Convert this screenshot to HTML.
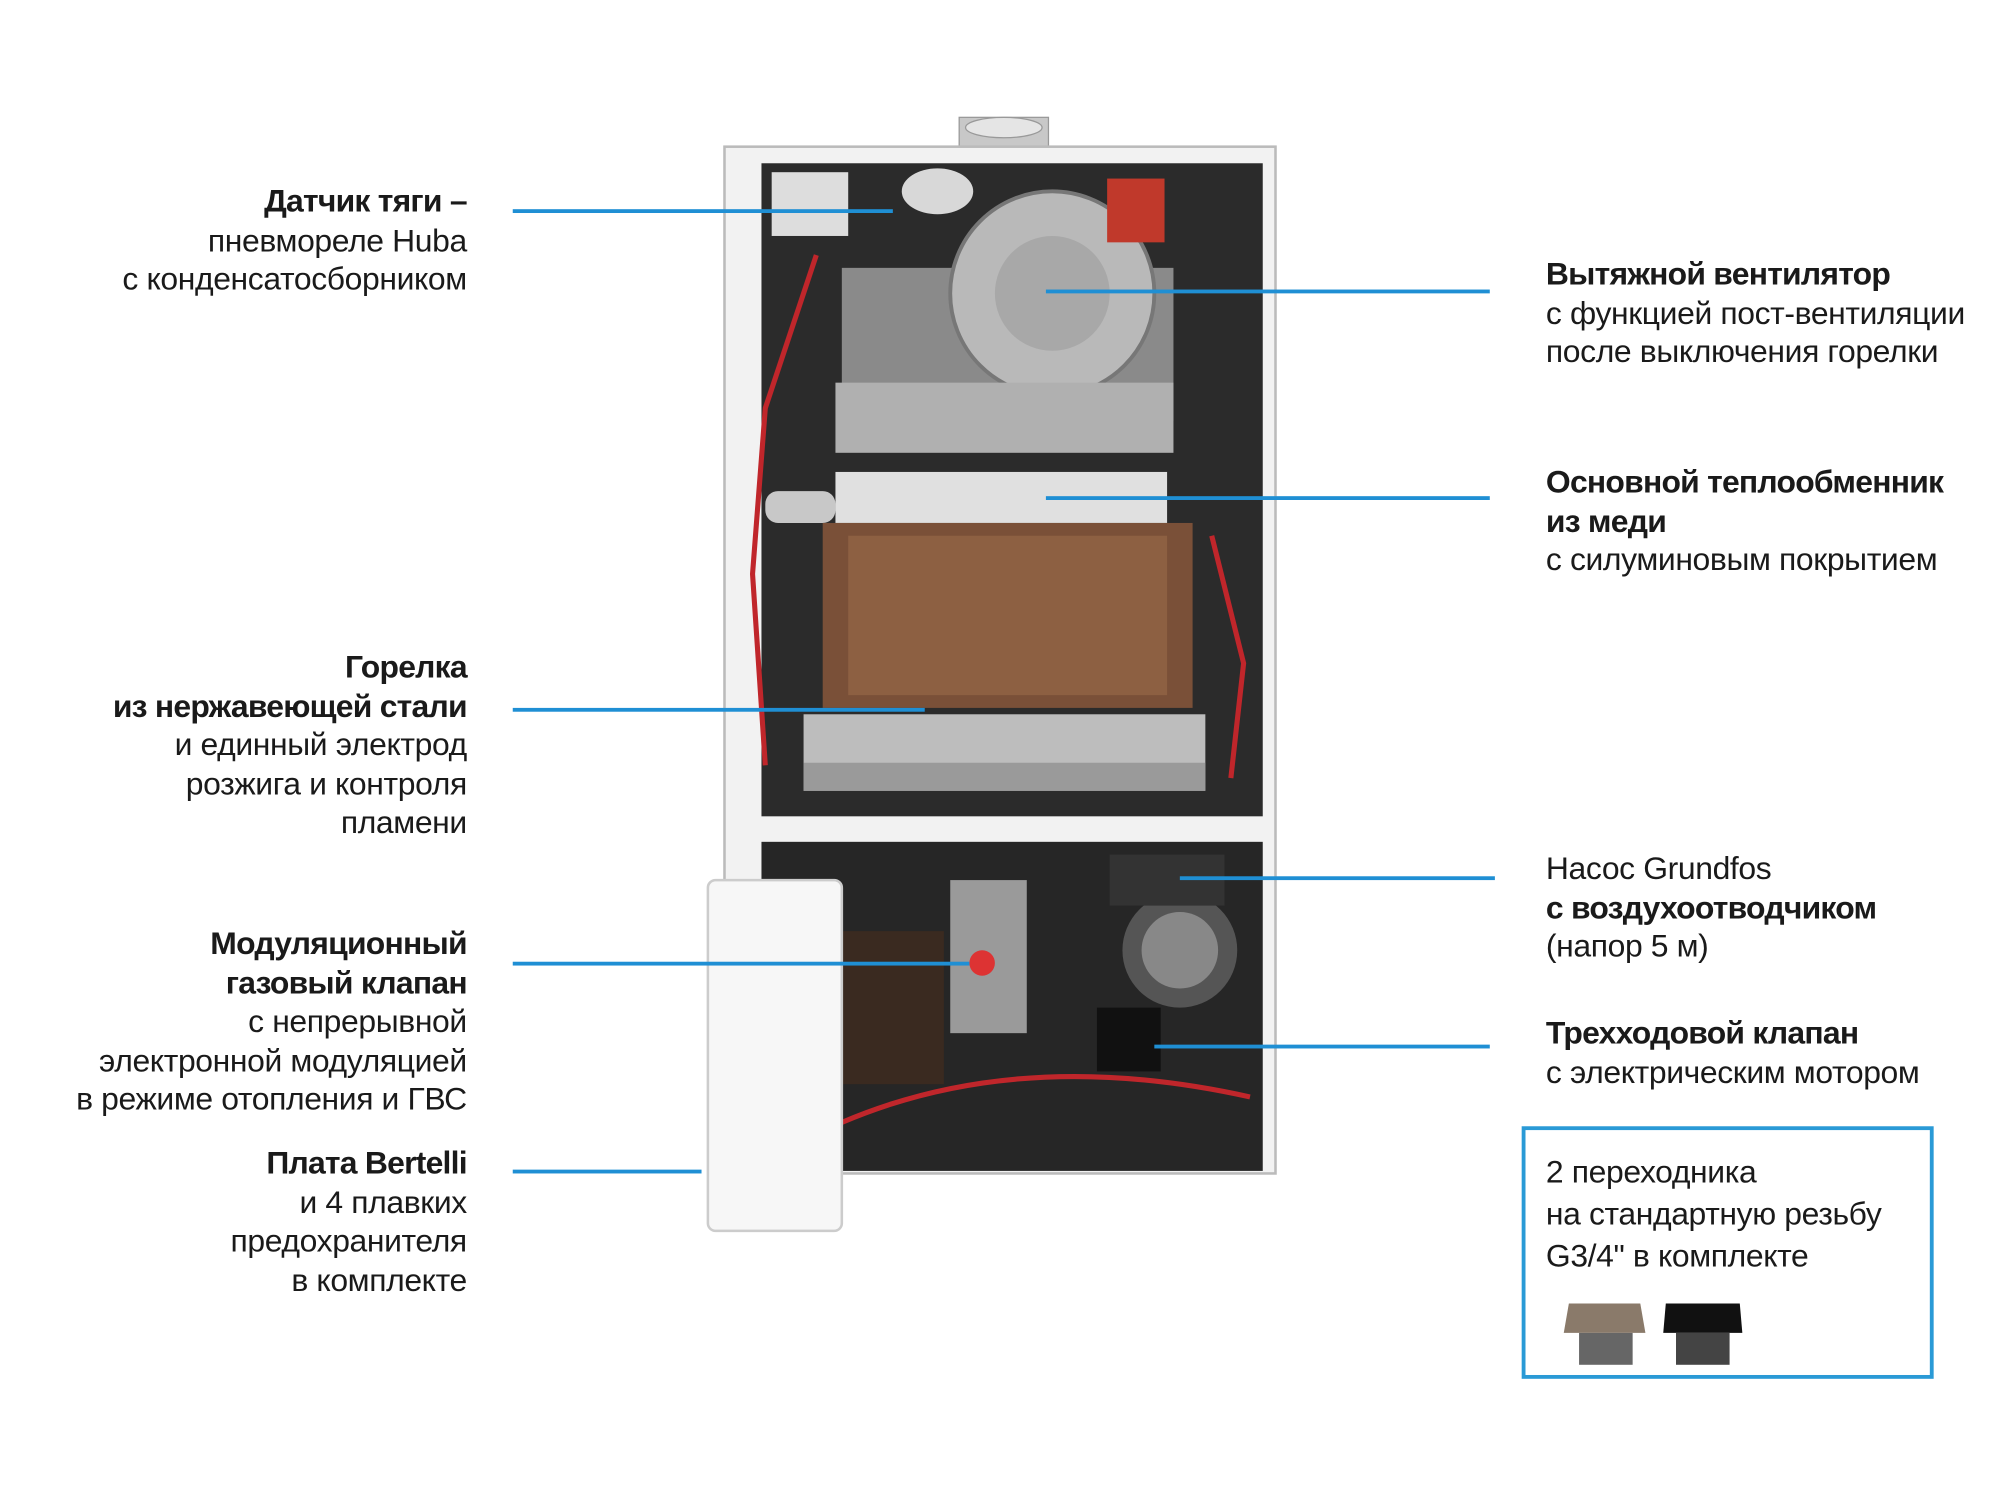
<!DOCTYPE html>
<html><head><meta charset="utf-8"><style>
html,body{margin:0;padding:0;background:#fff;}
#w{width:2000px;height:1500px;overflow:hidden;position:relative;}
#s{position:absolute;left:0;top:0;width:1568px;height:1176px;transform:scale(1.2755);transform-origin:0 0;}
.t{position:absolute;font-family:"Liberation Sans",sans-serif;font-size:25px;color:#1a1a1a;line-height:30.5px;letter-spacing:-0.3px;white-space:nowrap;}
.r{text-align:right;right:1202px;}
.l{left:1212px;}
b{font-weight:bold;letter-spacing:-0.6px;}
.ln{position:absolute;height:3px;background:#1f8fd4;}
</style></head><body><div id="w"><div id="s">
<svg width="1568" height="1176" style="position:absolute;left:0;top:0">
<rect x="752" y="92" width="70" height="28" fill="#c8c8c8" stroke="#999"/>
<ellipse cx="787" cy="100" rx="30" ry="8" fill="#e5e5e5" stroke="#999"/>
<rect x="568" y="115" width="432" height="805" fill="#f2f2f2" stroke="#bbb" stroke-width="2"/>
<rect x="597" y="128" width="393" height="512" fill="#2b2b2b"/>
<rect x="597" y="660" width="393" height="258" fill="#262626"/>
<rect x="660" y="210" width="260" height="120" fill="#8a8a8a"/>
<circle cx="825" cy="230" r="80" fill="#b9b9b9" stroke="#777" stroke-width="3"/>
<circle cx="825" cy="230" r="45" fill="#a8a8a8"/>
<rect x="868" y="140" width="45" height="50" fill="#c0392b"/>
<ellipse cx="735" cy="150" rx="28" ry="18" fill="#d8d8d8"/>
<rect x="605" y="135" width="60" height="50" fill="#ddd"/>
<rect x="655" y="300" width="265" height="55" fill="#b0b0b0"/>
<rect x="655" y="370" width="260" height="40" fill="#e0e0e0"/>
<rect x="600" y="385" width="55" height="25" rx="10" fill="#c8c8c8"/>
<rect x="645" y="410" width="290" height="145" fill="#7a5038"/>
<rect x="665" y="420" width="250" height="125" fill="#9a6a4a" opacity=".6"/>
<rect x="630" y="560" width="315" height="60" fill="#bdbdbd"/>
<rect x="630" y="598" width="315" height="22" fill="#9a9a9a"/>
<path d="M640 200 L600 320 L590 450 L600 600" stroke="#c0262b" stroke-width="4" fill="none"/>
<path d="M950 420 L975 520 L965 610" stroke="#c0262b" stroke-width="4" fill="none"/>
<path d="M660 880 Q800 820 980 860" stroke="#c0262b" stroke-width="4" fill="none"/>
<circle cx="925" cy="745" r="45" fill="#555"/>
<circle cx="925" cy="745" r="30" fill="#888"/>
<rect x="870" y="670" width="90" height="40" fill="#333"/>
<rect x="745" y="690" width="60" height="120" fill="#9a9a9a"/>
<circle cx="770" cy="755" r="10" fill="#d33"/>
<rect x="860" y="790" width="50" height="50" fill="#111"/>
<rect x="660" y="730" width="80" height="120" fill="#3a2a20"/>
<rect x="555" y="690" width="105" height="275" rx="6" fill="#f7f7f7" stroke="#ccc" stroke-width="2"/>
<polygon points="1230,1022 1286,1022 1290,1045 1226,1045" fill="#8a7a6a"/>
<rect x="1238" y="1045" width="42" height="25" fill="#666"/>
<polygon points="1306,1022 1364,1022 1366,1045 1304,1045" fill="#111"/>
<rect x="1314" y="1045" width="42" height="25" fill="#444"/>
</svg>
<div class="ln" style="left:402px;top:164px;width:298px"></div>
<div class="ln" style="left:402px;top:555px;width:323px"></div>
<div class="ln" style="left:402px;top:754px;width:358px"></div>
<div class="ln" style="left:402px;top:917px;width:148px"></div>
<div class="ln" style="left:820px;top:227px;width:348px"></div>
<div class="ln" style="left:820px;top:389px;width:348px"></div>
<div class="ln" style="left:925px;top:687px;width:247px"></div>
<div class="ln" style="left:905px;top:819px;width:263px"></div>
<div style="position:absolute;left:1193px;top:883px;width:317px;height:192px;border:3px solid #2a9ad6"></div>

<div class="t r" style="top:143px"><b>Датчик тяги –</b><br>пневмореле Huba<br>с конденсатосборником</div>
<div class="t r" style="top:508px"><b>Горелка<br>из нержавеющей стали</b><br>и единный электрод<br>розжига и контроля<br>пламени</div>
<div class="t r" style="top:725px"><b>Модуляционный<br>газовый клапан</b><br>с непрерывной<br>электронной модуляцией<br>в режиме отопления и ГВС</div>
<div class="t r" style="top:897px"><b>Плата Bertelli</b><br>и 4 плавких<br>предохранителя<br>в комплекте</div>
<div class="t l" style="top:200px"><b>Вытяжной вентилятор</b><br>с функцией пост-вентиляции<br>после выключения горелки</div>
<div class="t l" style="top:363px"><b>Основной теплообменник<br>из меди</b><br>с силуминовым покрытием</div>
<div class="t l" style="top:666px">Насос Grundfos<br><b>с воздухоотводчиком</b><br>(напор 5 м)</div>
<div class="t l" style="top:795px"><b>Трехходовой клапан</b><br>с электрическим мотором</div>
<div class="t l" style="top:903px;line-height:33px">2 переходника<br>на стандартную резьбу<br>G3/4" в комплекте</div>
</div></div></body></html>
